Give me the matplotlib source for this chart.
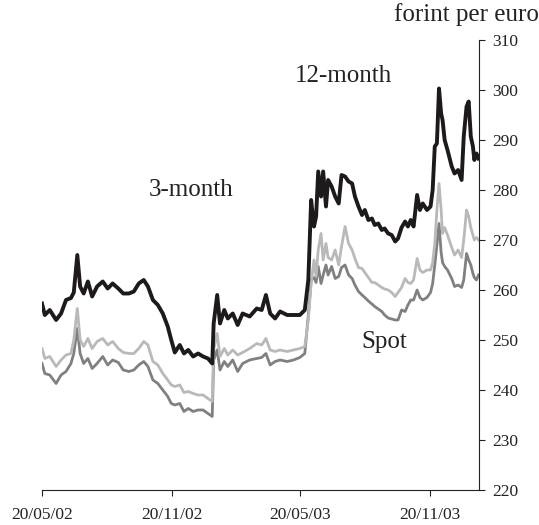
import pandas as pd
import matplotlib
matplotlib.use('Agg')
import matplotlib.pyplot as plt
import matplotlib.dates as mdates

plt.rcParams['font.family'] = ['Liberation Serif', 'DejaVu Serif']

# days after 20 May 2002 at which the three series were read
day = [0, 4, 11, 20, 27, 34, 41, 45, 50, 54, 59, 65, 71, 78, 86, 93, 100, 108, 115, 123,
       130, 137, 144, 150, 157, 164, 171, 178, 183, 188, 195, 201, 207, 214, 221, 228, 235, 241, 243, 248,
       252, 258, 263, 270, 277, 284, 294, 304, 311, 317, 323, 330, 337, 347, 356, 365, 372, 377, 381, 385,
       388, 391, 395, 398, 402, 405, 410, 415, 420, 424, 429, 434, 439, 443, 448, 453, 457, 462, 467, 471,
       476, 481, 485, 490, 495, 500, 504, 509, 514, 518, 522, 526, 531, 535, 539, 545, 550, 553, 556, 559,
       562, 565, 567, 570, 574, 580, 584, 589, 594, 597, 601, 604, 607, 610, 612, 615, 618]

twelve_month = [257.3, 255, 256, 254, 255.3, 258, 258.4, 259.5, 267, 260.7, 259.3, 261.7, 258.7, 260.7, 261.7, 260.3, 261.3, 260.3, 259.3, 259.3,
                259.7, 261.3, 262, 260.7, 258, 257, 255.3, 252.7, 250, 247.5, 249, 247.3, 248, 246.7, 247.3, 246.7, 246.3, 245.3, 253.3, 259,
                253.3, 256, 254.3, 255.3, 253, 255.3, 254.7, 256.3, 256, 259, 255.3, 254.3, 255.7, 255, 255, 255, 256, 262, 278, 272.7,
                274.7, 283.7, 278.7, 283.7, 276.7, 282, 280.7, 278.7, 277.3, 283, 282.7, 281.7, 281.3, 278.7, 276.7, 275, 276, 274, 274.3, 273,
                273.3, 272, 272.3, 271.3, 271, 269.7, 270.3, 272.5, 273.7, 272.7, 274, 272.7, 279, 276, 277.3, 276, 276.7, 280, 288.7, 289.3,
                300.3, 295.3, 294, 290, 288, 284.7, 283.3, 284, 282, 290.7, 296.7, 297.7, 290.7, 288.7, 286, 287.3, 286.3]

three_month = [248.3, 246.3, 246.7, 244.7, 246, 247, 247.3, 250, 256.3, 250, 248.7, 250.3, 248.3, 249.7, 250.3, 249, 249.7, 248.3, 247.5, 247.3,
               247.3, 248.3, 249.7, 249, 245.7, 245, 243.3, 242, 241, 240.7, 241, 239.5, 239.7, 239.3, 239, 239, 238.3, 237.7, 248, 251.3,
               246.7, 248.3, 247, 248, 247, 247.5, 248.3, 249.3, 249, 250.3, 248, 247.7, 248, 247.7, 248, 248.3, 248.7, 254, 261.3, 266,
               262.7, 268, 271.3, 266, 269.3, 266.5, 266, 268, 265, 268.7, 272.7, 269.3, 268, 266.3, 264.5, 264.3, 263.5, 262.5, 261.5, 261.5,
               261, 260.5, 260.2, 260, 259.5, 258.7, 259.5, 260.5, 262.3, 261.5, 261.3, 262, 266.3, 264, 263.5, 264, 264, 265.5, 269.3, 276,
               281.3, 276, 271.3, 272.5, 271, 268.5, 267, 268, 266.5, 270, 276, 274.7, 272.5, 271, 270, 270.5, 270]

spot = [245.3, 243.3, 243, 241.3, 243, 243.7, 245.3, 247.3, 252.3, 247.3, 245.3, 246.3, 244.3, 245.3, 246.7, 245, 246, 245.5, 244, 243.7,
        244, 245, 245.7, 244.7, 242, 241.3, 240, 238.7, 237.3, 237, 237.3, 235.7, 236.3, 235.7, 236, 236, 235.3, 234.7, 246, 248,
        244, 245.7, 244.7, 246, 243.7, 245.3, 246, 246.3, 246.5, 247.3, 245, 245.7, 246, 245.7, 246, 246.5, 247.3, 255, 262, 262.5,
        261.5, 264.7, 261.3, 263, 265, 263, 264.7, 262.3, 262.7, 264.5, 265, 263, 262.3, 261, 259.7, 259, 258.5, 257.8, 257.2, 256.7,
        256.2, 255.7, 255, 254.4, 254.2, 254, 254, 256, 255.7, 257, 258, 258, 260, 258.5, 258, 258.5, 259.5, 261.3, 265, 269,
        273.3, 267.5, 265.5, 264.7, 264, 262.3, 260.7, 261, 260.5, 262, 267.3, 266, 265, 263.3, 262.5, 262, 263]

tick_dates = ['2002-05-20', '2002-11-20', '2003-05-20', '2003-11-20']
y_ticks = list(range(220, 311, 10))

start = pd.Timestamp('2002-05-20')
dates = start + pd.to_timedelta(day, unit='D')

fig = plt.figure(figsize=(5.39, 5.25), dpi=100)
ax = fig.add_axes([0.0779, 0.0667, 0.8113, 0.8571])

ax.plot(dates, spot, color='#808080', lw=2.0)
ax.plot(dates, three_month, color='#b9b9b9', lw=2.0)
ax.plot(dates, twelve_month, color='#1e1a1b', lw=2.8)

ax.set_xlim(start, pd.Timestamp('2004-01-29'))
ax.set_ylim(220, 310)

ax.set_xticks(pd.to_datetime(tick_dates))
ax.xaxis.set_major_formatter(mdates.DateFormatter('%d/%m/%y'))
ax.set_yticks(y_ticks)
ax.yaxis.tick_right()

for s in ['top', 'left']:
    ax.spines[s].set_visible(False)
ax.spines['bottom'].set_color('#222222')
ax.spines['right'].set_color('#222222')
ax.tick_params(axis='x', direction='out', length=4, width=0.8, pad=8, labelsize=12.5, colors='#222222')
ax.tick_params(axis='y', direction='out', length=4.5, width=0.8, pad=5, labelsize=12.5, colors='#222222')

ax.text(pd.Timestamp('2002-10-18'), 278.8, '3-month', fontsize=18, color='#222222', va='baseline')
ax.text(pd.Timestamp('2003-05-13'), 301.7, '12-month', fontsize=18, color='#222222', va='baseline')
ax.text(pd.Timestamp('2003-08-15'), 248.4, 'Spot', fontsize=18, color='#222222', va='baseline')
fig.text(394 / 539, 1 - 20.7 / 525, 'forint per euro', fontsize=18, color='#222222', va='baseline')

fig.savefig('out.png', dpi=100)
